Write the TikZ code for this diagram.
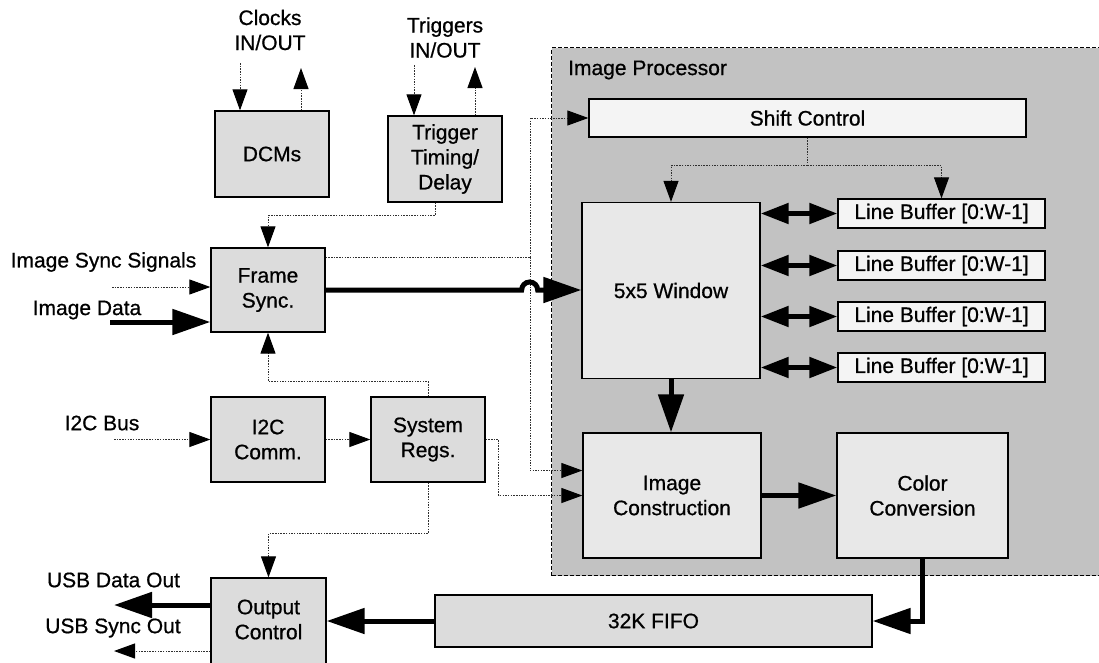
\documentclass[tikz,border=0pt]{standalone}
\usepackage{fontspec}
\setmainfont{Liberation Sans}[BoldFont=Liberation Sans, BoldFeatures={FakeBold=0.7}]
\usetikzlibrary{arrows.meta,calc}
\definecolor{boxgray}{HTML}{DCDCDC}
\definecolor{procgray}{HTML}{C2C2C2}
\definecolor{innergray}{HTML}{E8E8E8}
\definecolor{lightbox}{HTML}{F4F4F4}
\definecolor{wire}{HTML}{303030}
\tikzset{
  blk/.style={draw=black, line width=1.3pt, fill=boxgray, inner sep=0pt, align=center, font=\fontsize{21}{25}\selectfont\bfseries},
  innerblk/.style={blk, fill=innergray},
  lightblk/.style={blk, fill=lightbox},
  lbl/.style={inner sep=0pt, align=center, font=\fontsize{21}{25}\selectfont\bfseries},
  sigline/.style={draw=wire, line width=1pt, dash pattern=on 1.5pt off 1.2pt},
  sig/.style={sigline, -{Triangle[length=21pt,width=15pt,color=black]}},
  busline/.style={draw=black, line width=5pt},
  bus/.style={busline, -{Triangle[length=38pt,width=25pt]}},
  dbus/.style={draw=black, line width=5pt, {Triangle[length=28pt,width=20pt]}-{Triangle[length=28pt,width=20pt]}},
}
\begin{document}
\begin{tikzpicture}[x=1pt,y=-1pt]
\useasboundingbox (0,0) rectangle (1099,662);
% image processor region
\node[draw=black, line width=1pt, dash pattern=on 4pt off 2pt, fill=procgray, minimum width=560pt, minimum height=528pt, anchor=north west, inner sep=0pt] (proc) at (551,47) {};
\node[lbl, anchor=west] (iplbl) at (568,70) {Image Processor};

% outer blocks
\node[blk, minimum width=114pt, minimum height=86pt] (dcm) at (272,154) {DCMs};
\node[blk, minimum width=114pt, minimum height=86pt] (trig) at (445,159) {Trigger\\Timing/\\Delay};
\node[blk, minimum width=114pt, minimum height=84pt] (fs) at (268,290) {Frame\\Sync.};
\node[blk, minimum width=114pt, minimum height=85pt] (i2c) at (268,439.5) {I2C\\Comm.};
\node[blk, minimum width=114pt, minimum height=85pt] (sr) at (428,439.5) {System\\Regs.};
\node[blk, minimum width=115pt, minimum height=90pt] (oc) at (268.5,623) {};
\node[lbl] (octxt) at (268.5,619.5) {Output\\Control};
\node[blk, minimum width=437pt, minimum height=52pt] (fifo) at (653.5,621) {32K FIFO};

% inner blocks
\node[lightblk, minimum width=437pt, minimum height=38pt] (sc) at (807.5,118) {Shift Control};
\node[innerblk, minimum width=178pt, minimum height=176pt] (win) at (671,290.5) {5x5 Window};
\node[lightblk, minimum width=207pt, minimum height=29pt] (lb1) at (941.5,213.5) {Line Buffer [0:W-1]};
\node[lightblk, minimum width=207pt, minimum height=29pt] (lb2) at (941.5,265.5) {Line Buffer [0:W-1]};
\node[lightblk, minimum width=207pt, minimum height=29pt] (lb3) at (941.5,316.5) {Line Buffer [0:W-1]};
\node[lightblk, minimum width=207pt, minimum height=29pt] (lb4) at (941.5,367.5) {Line Buffer [0:W-1]};
\node[innerblk, minimum width=178pt, minimum height=125pt] (ic) at (672,495.5) {Image\\Construction};
\node[innerblk, minimum width=171pt, minimum height=125pt] (cc) at (922.5,495.5) {Color\\Conversion};

% free labels
\node[lbl] (clk) at (270,30) {Clocks\\IN/OUT};
\node[lbl] (trg) at (445,37.5) {Triggers\\IN/OUT};
\node[lbl] (isl) at (103.5,262) {Image Sync Signals};
\node[lbl] (idl) at (87,310) {Image Data};
\node[lbl] (i2cl) at (102,423) {I2C Bus};
\node[lbl] (usbdl) at (113.5,580) {USB Data Out};
\node[lbl] (usbsl) at (113,628) {USB Sync Out};

% free ends
\coordinate (clkin) at (240,63);
\coordinate (clkout) at (301,68);
\coordinate (trgin) at (414,65);
\coordinate (trgout) at (475,67);
\coordinate (tb) at (435,0);
\coordinate (isync) at (112,287);
\coordinate (idata) at (110,322);
\coordinate (vx) at (530,257);
\coordinate (i2cbus) at (114,439.5);
\coordinate (usbd) at (114,605);
\coordinate (usbs) at (114,651);

% clocks and triggers
\draw[sig] (clkin) -- (clkin |- dcm.north);
\draw[sig] (clkout |- dcm.north) -- (clkout);
\draw[sig] (trgin) -- (trgin |- trig.north);
\draw[sig] (trgout |- trig.north) -- (trgout);
\draw[sig] (tb |- trig.south) -- ++(0,13) -| (fs.north);

% inputs to frame sync
\draw[sig] (isync) -- (isync -| fs.west);
\draw[bus] (idata) -- (idata -| fs.west);

% frame sync control lines
\draw[sigline] (fs.east |- vx) -- (vx);
\draw[sig] (vx) |- (sc.west);
\draw[sig] (vx) |- ($(ic.west)+(0,-25)$);

% frame sync data with hop
\draw[bus] (fs.east) -- ++(196,0) arc[start angle=180,end angle=360,radius=8] -- (win.west |- fs.east);

% I2C and system registers
\draw[sig] (i2cbus) -- (i2c.west);
\draw[sig] (i2c.east) -- (sr.west);
\draw[sig] (sr.north) -- ++(0,-15) -| (fs.south);
\draw[sig] (sr.east) -- ++(13,0) |- (ic.west);
\draw[sig] (sr.south) -- ++(0,51) -| (oc.north);

% shift control
\draw[sigline] (sc.south) -- ++(0,28) coordinate (scb);
\draw[sig] (scb) -| (win.north);
\draw[sig] (scb) -| (lb1.north);

% line buffers
\draw[dbus] (win.east |- lb1.west) -- (lb1.west);
\draw[dbus] (win.east |- lb2.west) -- (lb2.west);
\draw[dbus] (win.east |- lb3.west) -- (lb3.west);
\draw[dbus] (win.east |- lb4.west) -- (lb4.west);

% data path
\draw[bus] (win.south) -- (win.south |- ic.north);
\draw[bus] (ic.east) -- (cc.west);
\draw[bus] (cc.south) |- (fifo.east);
\draw[bus] (fifo.west) -- (fifo.west -| oc.east);
\draw[bus] (usbd -| oc.west) -- (usbd);
\draw[sig] (usbs -| oc.west) -- (usbs);
\end{tikzpicture}
\end{document}
